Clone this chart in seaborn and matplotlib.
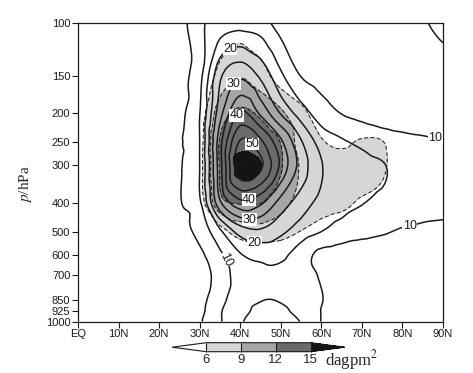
import numpy as np
import matplotlib
matplotlib.use("Agg")
import matplotlib.pyplot as plt
import matplotlib.tri as mtri
import seaborn as sns
from matplotlib.ticker import NullLocator

# ---------------- data ----------------
lats = [0, 5, 10, 15, 20, 25, 30, 35, 40, 45, 50, 55, 60, 65, 70, 75, 80, 85, 90]
plevs = [1000, 925, 850, 700, 600, 500, 400, 300, 250, 200, 150, 100]
xtick_values = [0, 10, 20, 30, 40, 50, 60, 70, 80, 90]
xtick_labels = ["EQ", "10N", "20N", "30N", "40N", "50N", "60N", "70N", "80N", "90N"]
ytick_values = [1000, 925, 850, 700, 600, 500, 400, 300, 250, 200, 150, 100]
line_levels = [5, 10, 15, 20, 25, 30, 35, 40, 45, 50, 55]
labelled_levels = [10, 20, 30, 40, 50]
shade_levels = [6, 9, 12, 15]
shade_unit = "dagpm$^2$"

# contour (line) field, one row per pressure level
line_1000 = [0.5, 0.6, 0.8, 1, 1.5, 2.2, 4.5, 9.5, 14.5, 16.5, 16.5, 14.8, 9.9, 8, 7.5, 7, 6.8, 6.6, 6.5]
line_925 = [0.5, 0.6, 0.8, 1, 1.5, 2.3, 3.8, 9.5, 13.5, 16, 15.8, 13.5, 9.9, 8, 7.5, 7, 6.8, 6.6, 6.5]
line_850 = [0.5, 0.6, 0.8, 1, 1.5, 2.5, 3.5, 8.5, 13, 14.9, 14.8, 13, 10.2, 8, 7.5, 7, 6.8, 6.6, 6.5]
line_700 = [0.5, 0.6, 0.8, 1, 1.5, 2.3, 3, 7, 12.5, 14, 14, 12.5, 9.5, 8, 7.5, 7, 6.8, 6.6, 6.5]
line_600 = [0.5, 0.7, 1, 1.3, 2, 3, 4, 9, 14.5, 16.2, 16, 12.5, 8.5, 7.5, 7, 7, 7, 7, 7]
line_500 = [0.5, 0.8, 1, 1.5, 2.3, 3.5, 6.5, 14, 22, 24, 21, 17.5, 15, 13, 11.5, 10.5, 9.5, 9, 8.8]
line_400 = [0.8, 1, 1.3, 1.8, 2.8, 4.7, 9.2, 29, 38.5, 36, 28, 22.5, 18.5, 16.5, 15.2, 14, 13, 12, 11.5]
line_300 = [1, 1.2, 1.5, 2, 3, 4.6, 10, 33, 54, 51, 39, 28, 20.3, 17.5, 16.3, 15.3, 13.5, 12.5, 12]
line_250 = [1, 1.2, 1.5, 2, 3, 4.5, 10, 33, 50.5, 46, 36, 25.5, 18, 15.6, 14, 12.5, 11.5, 10.8, 10.2]
line_200 = [1, 1.2, 1.5, 2, 2.8, 4, 9.8, 28, 40.5, 34, 24.5, 17.5, 12.5, 9.8, 8.5, 7.5, 7, 7, 7.5]
line_150 = [1, 1, 1.5, 2, 2.5, 3.3, 8.5, 24, 29, 24, 16, 9.8, 8, 7, 6.5, 6.5, 7, 7.5, 8]
line_100 = [1, 1, 1.5, 2, 2.5, 3, 9, 12, 13, 12, 7.8, 7.3, 7, 6.8, 6.8, 7, 7.5, 9.5, 11.5]

# shaded field (dagpm^2), one row per pressure level
shade_1000 = [0.5, 0.5, 0.8, 0.8, 1, 1, 1.5, 1.8, 2, 2, 2, 2, 1.8, 1.8, 1.8, 1.8, 1.8, 1.8, 1.8]
shade_925 = [0.5, 0.5, 0.8, 0.8, 1, 1, 1.5, 2, 2.3, 2.3, 2.3, 2.3, 2, 2, 2, 1.8, 1.8, 1.8, 1.8]
shade_850 = [0.5, 0.5, 0.8, 0.8, 1, 1, 1.5, 2, 2.5, 2.5, 2.5, 2.5, 2.2, 2, 2, 2, 1.8, 1.8, 1.8]
shade_700 = [0.8, 0.8, 0.8, 1, 1, 1.2, 2, 2.5, 3, 3, 3, 2.8, 2.5, 2.5, 2.3, 2, 2, 2, 2]
shade_600 = [0.8, 0.8, 1, 1, 1.2, 1.5, 2.5, 3, 4, 4, 4, 3.5, 3, 3, 2.8, 2.5, 2.5, 2, 2]
shade_500 = [1, 1, 1, 1.2, 1.5, 2, 3, 5, 7.2, 7.8, 7.2, 5.9, 5, 4.5, 4, 3.5, 3, 2.5, 2]
shade_400 = [1, 1, 1.2, 1.5, 2, 2.8, 4.8, 11, 12.2, 12.1, 10, 8, 7, 6.5, 5.7, 5, 3.5, 3, 2.5]
shade_300 = [1, 1, 1.2, 1.5, 2, 3, 5.2, 12.2, 15.6, 15.1, 12.3, 8.7, 7.3, 7, 7.2, 6.5, 4, 3, 2.5]
shade_250 = [1, 1, 1.2, 1.5, 2, 2.8, 5, 12.2, 14.2, 13.5, 11.9, 7.8, 6.2, 5.5, 6.3, 6.1, 4, 3, 2.5]
shade_200 = [1, 1, 1.2, 1.5, 2, 2.5, 4.5, 10.5, 12.5, 11.5, 9.5, 6.8, 4.5, 3.5, 3, 2.5, 2, 2, 2]
shade_150 = [1, 1, 1.2, 1.5, 2, 2.5, 3, 7, 8.8, 7.2, 4.5, 3, 2.5, 2, 2, 2, 1.5, 1.5, 1.5]
shade_100 = [1, 1, 1, 1.2, 1.5, 2, 3, 4, 4.5, 4, 3, 2.5, 2, 2, 2, 1.8, 1.5, 1.5, 1.5]

line_field = np.array([line_1000, line_925, line_850, line_700, line_600, line_500,
                       line_400, line_300, line_250, line_200, line_150, line_100])
shade_field = np.array([shade_1000, shade_925, shade_850, shade_700, shade_600, shade_500,
                        shade_400, shade_300, shade_250, shade_200, shade_150, shade_100])

# contour label anchor points (lat, hPa)
label_lat = [37.5, 37.5, 38.7, 41.4, 41.9, 42.4, 43.6, 36.2, 88.0, 81.9]
label_p = [122, 156, 202, 263, 380, 447, 533, 622, 247, 485]

# ---------------- smooth contouring via matplotlib.tri ----------------
DEC = 73.6  # one pressure decade expressed in "degrees" of plot width
LON, LOGP = np.meshgrid(np.array(lats, float), np.log10(plevs) * DEC)
tri = mtri.Triangulation(LON.ravel(), LOGP.ravel())
refiner = mtri.UniformTriRefiner(tri)
fine_line_tri, fine_line = refiner.refine_field(
    line_field.ravel(), mtri.CubicTriInterpolator(tri, line_field.ravel(), kind="geom"), subdiv=3)
fine_shade_tri, fine_shade = refiner.refine_field(
    shade_field.ravel(), mtri.CubicTriInterpolator(tri, shade_field.ravel(), kind="geom"), subdiv=3)
plot_tri = mtri.Triangulation(fine_line_tri.x, 10 ** (fine_line_tri.y / DEC),
                              fine_line_tri.triangles)
plot_tri_s = mtri.Triangulation(fine_shade_tri.x, 10 ** (fine_shade_tri.y / DEC),
                                fine_shade_tri.triangles)

# ---------------- style ----------------
sns.set_theme(style="ticks")
plt.rcParams["font.family"] = ["Liberation Sans", "DejaVu Sans"]
plt.rcParams["mathtext.fontset"] = "stix"

W, H = 473, 373
fig = plt.figure(figsize=(W / 100, H / 100), dpi=100)
ax = fig.add_axes([78 / W, 1 - 321.5 / H, 365 / W, 298.5 / H])
ax.set_yscale("log")

shade_colors = ["white", "#d6d6d6", "#a6a6a6", "#6b6b6b", "#141414"]
cf = ax.tricontourf(plot_tri_s, fine_shade, levels=shade_levels,
                    colors=shade_colors, extend="both")
ax.tricontour(plot_tri_s, fine_shade, levels=shade_levels[:3], colors="k",
              linewidths=0.7, linestyles=[(0, (4, 2.5))])

plain_levels = [v for v in line_levels if v not in labelled_levels]
ax.tricontour(plot_tri, fine_line, levels=plain_levels, colors="k", linewidths=1.1)
cs = ax.tricontour(plot_tri, fine_line, levels=labelled_levels, colors="k",
                   linewidths=1.1)

ax.set_xlim(0, 90)
ax.set_ylim(1000, 100)
ax.set_xticks(xtick_values)
ax.set_xticklabels(xtick_labels)
ax.set_yticks(ytick_values)
ax.set_yticklabels([str(v) for v in ytick_values])
ax.yaxis.set_minor_locator(NullLocator())
ax.xaxis.set_minor_locator(NullLocator())
ax.tick_params(axis="both", which="major", direction="out", length=4, width=0.8,
               labelsize=8, pad=1.5, colors="k")
for s in ax.spines.values():
    s.set_linewidth(0.9)
    s.set_color("k")

texts = ax.clabel(cs, manual=list(zip(label_lat, label_p)),
                  fmt="%d", fontsize=9, inline=False)
for t in texts:
    x, y = t.get_position()
    if not (34 < x < 38 and 550 < y < 700):
        t.set_rotation(0)
    t.set_bbox(dict(facecolor="white", edgecolor="none", pad=0.3))

ax.set_ylabel("$p$/hPa", family="Liberation Serif", fontsize=11)
ax.yaxis.set_label_coords(-0.12, 0.46)

cax = fig.add_axes([172 / W, 1 - 351.7 / H, 173 / W, 9 / H])
cb = fig.colorbar(cf, cax=cax, orientation="horizontal", extendfrac=0.33,
                  drawedges=True, ticks=shade_levels)
cb.outline.set_linewidth(0.8)
cb.outline.set_edgecolor("k")
cb.dividers.set_linewidth(0.8)
cb.dividers.set_color("k")
cb.ax.tick_params(length=0, labelsize=9.5, pad=2)
cb.ax.set_xticklabels([str(v) for v in shade_levels])
fig.text(325 / W, 1 - 360 / H, shade_unit, family="Liberation Serif", fontsize=12,
         va="center", ha="left")

fig.savefig("out.png", dpi=100)
